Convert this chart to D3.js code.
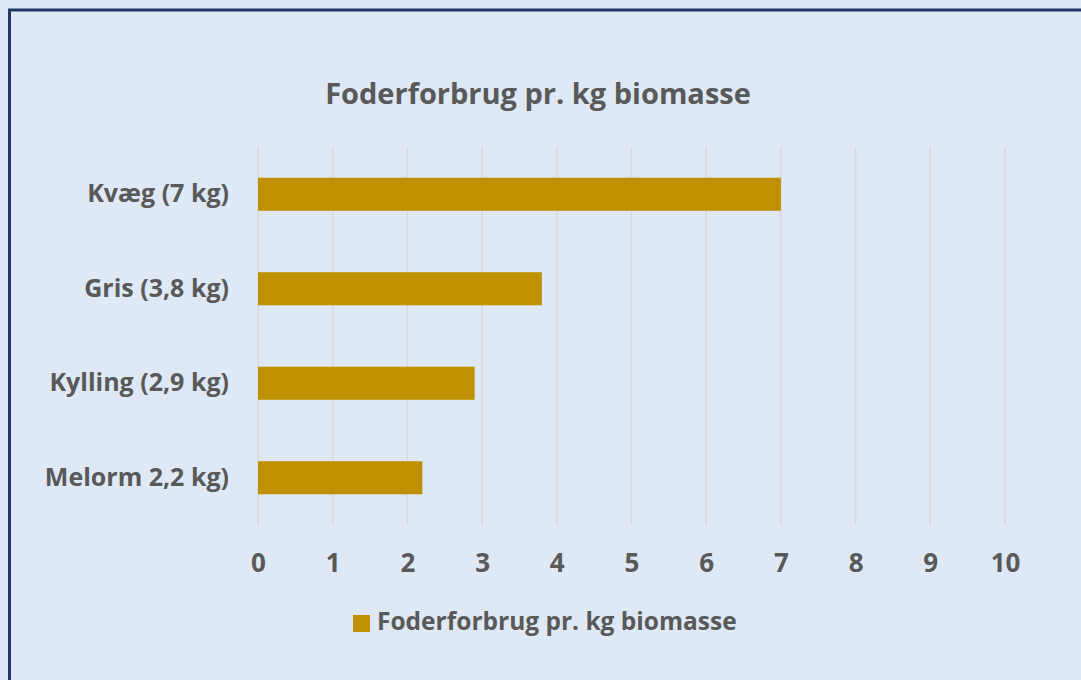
<!DOCTYPE html>
<html>
<head>
<meta charset="utf-8">
<script src="https://cdn.jsdelivr.net/npm/d3@7"></script>
<style>
  body { margin: 0; background: #dee9f5; }
  text { font-family: "Open Sans", Lato, sans-serif; font-weight: bold; fill: #595959; }
</style>
</head>
<body>
<div id="chart"></div>
<script>
var categories = ["Kvæg (7 kg)", "Gris (3,8 kg)", "Kylling (2,9 kg)", "Melorm 2,2 kg)"];
var values = [7, 3.8, 2.9, 2.2];
var xTicks = [0, 1, 2, 3, 4, 5, 6, 7, 8, 9, 10];
var seriesName = "Foderforbrug pr. kg biomasse";

var width = 1081, height = 680;
var plot = { left: 258, right: 1005, top: 147, bottom: 525 };

var svg = d3.select("#chart").append("svg")
  .attr("width", width)
  .attr("height", height);

svg.append("rect")
  .attr("width", width).attr("height", height)
  .attr("fill", "#dee9f5");

// outer frame (runs off the right/bottom edge)
svg.append("rect")
  .attr("x", 9.5).attr("y", 10)
  .attr("width", width + 20).attr("height", height + 20)
  .attr("fill", "none")
  .attr("stroke", "#1f3864")
  .attr("stroke-width", 3);

var x = d3.scaleLinear().domain([0, 10]).range([plot.left, plot.right]);
var y = d3.scaleBand().domain(categories).range([plot.top, plot.bottom])
  .paddingInner(0.65).paddingOuter(0.325);

// gridlines
svg.append("g").selectAll("line")
  .data(xTicks)
  .enter().append("line")
  .attr("x1", function(d) { return x(d); })
  .attr("x2", function(d) { return x(d); })
  .attr("y1", plot.top)
  .attr("y2", plot.bottom)
  .attr("stroke", "#d9d9d9")
  .attr("stroke-width", 1.5);

// bars
svg.append("g").selectAll("rect")
  .data(d3.zip(categories, values))
  .enter().append("rect")
  .attr("x", x(0))
  .attr("y", function(v) { return y(v[0]); })
  .attr("width", function(v) { return x(v[1]) - x(0); })
  .attr("height", y.bandwidth())
  .attr("fill", "#bf9000");

// x axis
var xAxis = d3.axisBottom(x).tickValues(xTicks).tickSize(0).tickPadding(0);
var gx = svg.append("g")
  .attr("transform", "translate(0," + (plot.bottom + 47) + ")")
  .call(xAxis);
gx.select(".domain").remove();
gx.selectAll("text")
  .attr("dy", 0)
  .style("font-size", "26px")
  .style("font-family", "'Open Sans', Lato, sans-serif")
  .attr("fill", "#595959");

// y axis
var yAxis = d3.axisLeft(y).tickSize(0).tickPadding(0);
var gy = svg.append("g")
  .attr("transform", "translate(" + (plot.left - 29) + ",0)")
  .call(yAxis);
gy.select(".domain").remove();
gy.selectAll("text")
  .attr("dy", "0.32em")
  .style("font-size", "25px")
  .style("font-family", "'Open Sans', Lato, sans-serif")
  .attr("fill", "#595959");

// title
svg.append("text")
  .attr("x", 538)
  .attr("y", 104)
  .attr("text-anchor", "middle")
  .style("font-size", "29px")
  .text(seriesName);

// legend
var lg = svg.append("g").attr("transform", "translate(353,615)");
lg.append("rect")
  .attr("width", 17).attr("height", 17)
  .attr("fill", "#bf9000");
lg.append("text")
  .attr("x", 24)
  .attr("y", 15)
  .style("font-size", "24.5px")
  .text(seriesName);
</script>
</body>
</html>
